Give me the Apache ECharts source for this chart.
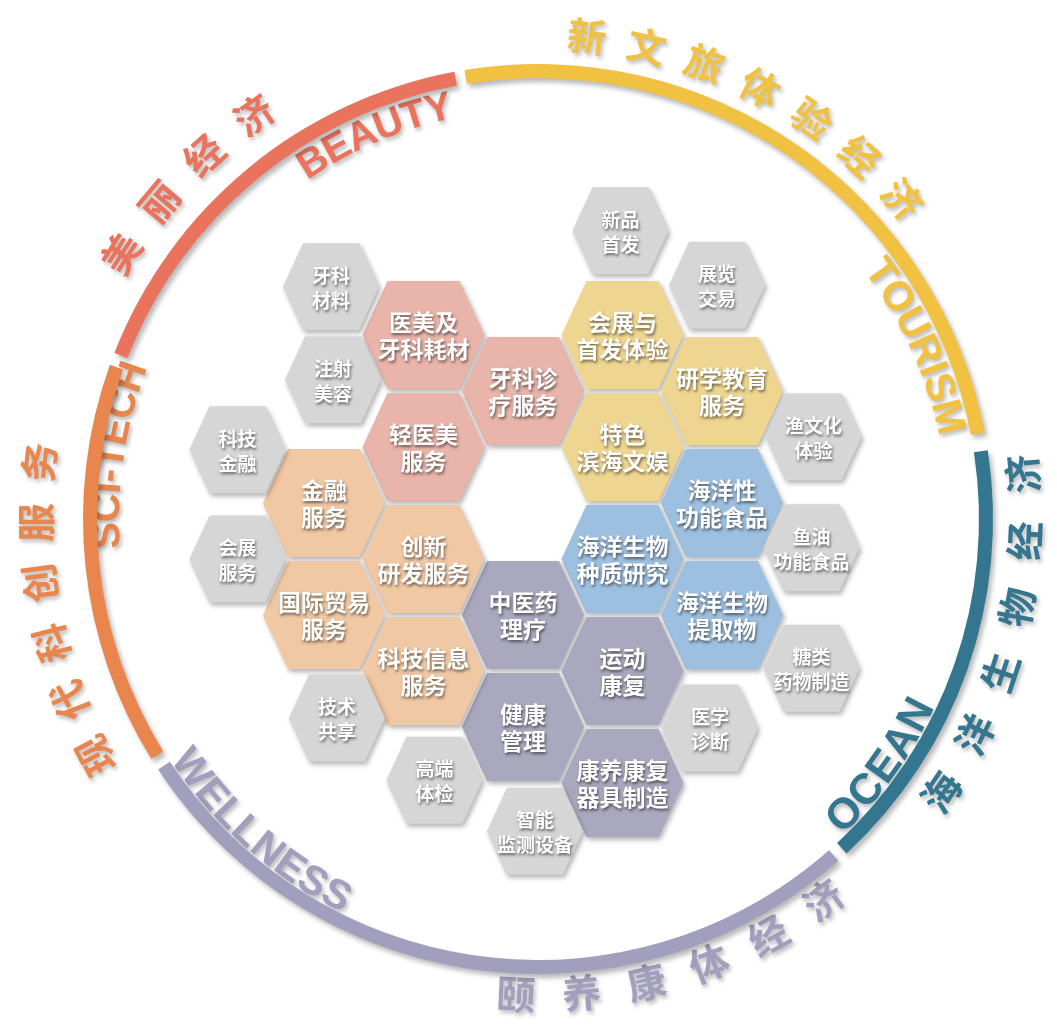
<!DOCTYPE html>
<html><head><meta charset="utf-8">
<script src="https://cdn.jsdelivr.net/npm/echarts@6/dist/echarts.min.js"></script>
<style>html,body{margin:0;padding:0;background:#fff}#c{width:1057px;height:1026px}</style>
</head><body><div id="c"></div>
<script>
// ---------------- DATA ----------------
// Outer ring: five sectors (angular span in degrees), clockwise from BEAUTY
const ringNames = ['BEAUTY', 'TOURISM', 'OCEAN', 'WELLNESS', 'SCI-TECH'];
const ringSpans = [58.0, 88.3, 56.0, 97.9, 51.6];
const ringGaps  = [1.3, 2.3, 1.4, 1.6, 1.6];
const ringTitlesCN = ['美丽经济', '新文旅体验经济', '海洋生物经济', '颐养康体经济', '现代科创服务'];
const ringTitlesEN = ['BEAUTY', 'TOURISM', 'OCEAN', 'WELLNESS', 'SCI-TECH'];

// Hexagon cells: label, hex-grid column, hex-grid half-row, group (0-4 sector, 5 = supporting/grey)
const hexLabels = [
  '医美及\n牙科耗材', '牙科诊\n疗服务', '轻医美\n服务',
  '会展与\n首发体验', '研学教育\n服务', '特色\n滨海文娱',
  '海洋性\n功能食品', '海洋生物\n种质研究', '海洋生物\n提取物',
  '中医药\n理疗', '运动\n康复', '健康\n管理', '康养康复\n器具制造',
  '金融\n服务', '创新\n研发服务', '国际贸易\n服务', '科技信息\n服务',
  '牙科\n材料', '注射\n美容', '科技\n金融', '会展\n服务', '技术\n共享', '高端\n体检',
  '智能\n监测设备', '医学\n诊断', '糖类\n药物制造', '鱼油\n功能食品', '渔文化\n体验',
  '展览\n交易', '新品\n首发'
];
const hexCol = [1, 2, 1, 3, 4, 3, 4, 3, 4, 2, 3, 2, 3, 0, 1, 0, 1,
  0.07, 0.09, -0.87, -0.87, 0.13, 1.11, 2.12, 3.88, 4.90, 4.90, 4.92, 3.95, 2.98];
const hexRow = [0, 1, 2, 0, 1, 2, 3, 4, 5, 5, 6, 7, 8, 3, 4, 5, 6,
  -0.86, 0.80, 2.05, 4.0, 6.84, 7.95, 8.86, 7.02, 5.95, 3.8, 1.82, -0.89, -1.86];
const hexGroup = [0, 0, 0, 1, 1, 1, 2, 2, 2, 3, 3, 3, 3, 4, 4, 4, 4,
  5, 5, 5, 5, 5, 5, 5, 5, 5, 5, 5, 5, 5];

// ---------------- STYLE / LAYOUT ----------------
const ringColors = ['#e9735d', '#f1c242', '#34768f', '#a29ebd', '#e8864e'];
const hexFills = ['#e9b5aa', '#efd690', '#9ec0e0', '#aaa8be', '#f1c8a4', '#d6d6d6'];
const CENTER = [538, 519];
const RING_R = [441, 455];
const RING_START = 291.4; // degrees clockwise from 12 o'clock
// Chinese titles outside ring: centre angle, step, radius, direction
const cnLayout = [
  {c: 313.7, step: 7.47, r: 494, dir: 1},
  {c: 27.25, step: 7.15, r: 485, dir: 1},
  {c: 104.4, step: 7.88, r: 487, dir: -1},
  {c: 162.9, step: 7.9, r: 476, dir: -1},
  {c: 259.2, step: 6.92, r: 502, dir: 1}
];
const enLayout = [
  {c: 337.0, r: 421, dir: 1, size: 40},
  {c: 65.5, r: 421, dir: 1, size: 41},
  {c: 125.7, r: 427, dir: -1, size: 43},
  {c: 221.6, r: 428, dir: -1, size: 41},
  {c: 278.6, r: 430, dir: 1, size: 40}
];
const CN_FONT = 'bold 39px "Noto Sans CJK SC"';
const EN_FAMILY = '"Liberation Sans", Arial, sans-serif';
// hex grid mapping: px = X0 + col*DX ; py = Y0 + row*DY
const X0 = 324, DX = 99.5, Y0 = 335, DY = 56;
const W = 1057, H = 1026;

// ---------------- BUILD ----------------
const pieData = [];
ringNames.forEach((n, i) => {
  pieData.push({name: n, value: ringSpans[i], itemStyle: {color: ringColors[i]}});
  pieData.push({name: 'gap' + i, value: ringGaps[i], itemStyle: {color: 'rgba(0,0,0,0)', shadowBlur: 0, shadowColor: 'rgba(0,0,0,0)'}});
});

const measureCtx = document.createElement('canvas').getContext('2d');
const labelItems = [];
ringTitlesCN.forEach((t, i) => {
  const L = cnLayout[i];
  const chars = Array.from(t);
  const n = chars.length;
  chars.forEach((ch, k) => {
    const a = L.c + L.dir * (k - (n - 1) / 2) * L.step;
    const rot = L.dir === 1 ? -a * Math.PI / 180 : -(a - 180) * Math.PI / 180;
    labelItems.push({r: L.r, a: a, ch: ch, color: ringColors[i], font: CN_FONT, rot: rot});
  });
});
ringTitlesEN.forEach((t, i) => {
  const L = enLayout[i];
  const font = 'bold ' + L.size + 'px ' + EN_FAMILY;
  measureCtx.font = font;
  const chars = Array.from(t);
  const widths = chars.map(ch => measureCtx.measureText(ch).width);
  const total = widths.reduce((s, w) => s + w, 0);
  let acc = 0;
  chars.forEach((ch, k) => {
    const mid = acc + widths[k] / 2;
    acc += widths[k];
    const a = L.c + L.dir * (mid - total / 2) / L.r * 180 / Math.PI;
    const rot = L.dir === 1 ? -a * Math.PI / 180 : -(a - 180) * Math.PI / 180;
    labelItems.push({r: L.r, a: a, ch: ch, color: ringColors[i], font: font, rot: rot});
  });
});

const chart = echarts.init(document.getElementById('c'), null, {renderer: 'canvas'});
chart.setOption({
  backgroundColor: '#ffffff',
  animation: false,
  grid: {left: 0, right: 0, top: 0, bottom: 0},
  xAxis: {type: 'value', min: -X0 / DX, max: (W - X0) / DX, show: false},
  yAxis: {type: 'value', inverse: true, min: -Y0 / DY, max: (H - Y0) / DY, show: false},
  polar: {center: CENTER, radius: 520},
  radiusAxis: {type: 'value', min: 0, max: 520, show: false,
    axisLine: {show: false}, axisTick: {show: false}, axisLabel: {show: false}, splitLine: {show: false}},
  angleAxis: {type: 'value', min: 0, max: 360, startAngle: 90, clockwise: true, show: false,
    axisLine: {show: false}, axisTick: {show: false}, axisLabel: {show: false}, splitLine: {show: false}, splitArea: {show: false}},
  series: [
    {
      type: 'pie', silent: true, center: CENTER, radius: RING_R,
      startAngle: 90 - RING_START, clockwise: true, avoidLabelOverlap: false,
      label: {show: false}, labelLine: {show: false}, emphasis: {disabled: true},
      itemStyle: {borderWidth: 0, borderRadius: 0, shadowBlur: 5, shadowColor: 'rgba(0,0,0,0.28)', shadowOffsetX: 3, shadowOffsetY: 4},
      data: pieData
    },
    {
      type: 'custom', coordinateSystem: 'polar', silent: true,
      data: labelItems.map(d => [d.r, d.a]),
      renderItem: function (params, api) {
        const d = labelItems[params.dataIndex];
        const p = api.coord([api.value(0), api.value(1)]);
        return {
          type: 'text', x: p[0], y: p[1], rotation: d.rot,
          style: {
            text: d.ch, fill: d.color, font: d.font, align: 'center', verticalAlign: 'middle',
            textShadowColor: 'rgba(0,0,0,0.28)', textShadowBlur: 4, textShadowOffsetX: 2, textShadowOffsetY: 3
          }
        };
      }
    },
    {
      type: 'custom', coordinateSystem: 'cartesian2d', silent: true,
      data: hexCol.map((c, i) => [c, hexRow[i]]),
      renderItem: function (params, api) {
        const i = params.dataIndex;
        const g = hexGroup[i];
        const p = api.coord([api.value(0), api.value(1)]);
        const big = g < 5;
        const rx = big ? 61 : 48, ax = big ? 36 : 28, hy = big ? 54 : 43.5;
        const x = p[0], y = p[1];
        return {
          type: 'group',
          children: [
            {
              type: 'polygon',
              shape: {points: [[x - rx, y], [x - ax, y - hy], [x + ax, y - hy], [x + rx, y], [x + ax, y + hy], [x - ax, y + hy]]},
              style: {fill: hexFills[g], shadowBlur: 5, shadowColor: 'rgba(0,0,0,0.30)', shadowOffsetX: 2, shadowOffsetY: 3}
            },
            {
              type: 'text', x: x, y: y + 1,
              style: {
                text: hexLabels[i], fill: '#ffffff',
                font: big ? 'bold 23px "Noto Sans CJK SC"' : 'bold 19px "Noto Sans CJK SC"',
                lineHeight: big ? 27 : 25, align: 'center', verticalAlign: 'middle',
                textShadowColor: 'rgba(0,0,0,0.55)', textShadowBlur: 3, textShadowOffsetX: 1, textShadowOffsetY: 2
              }
            }
          ]
        };
      }
    }
  ]
});
</script>
</body></html>
